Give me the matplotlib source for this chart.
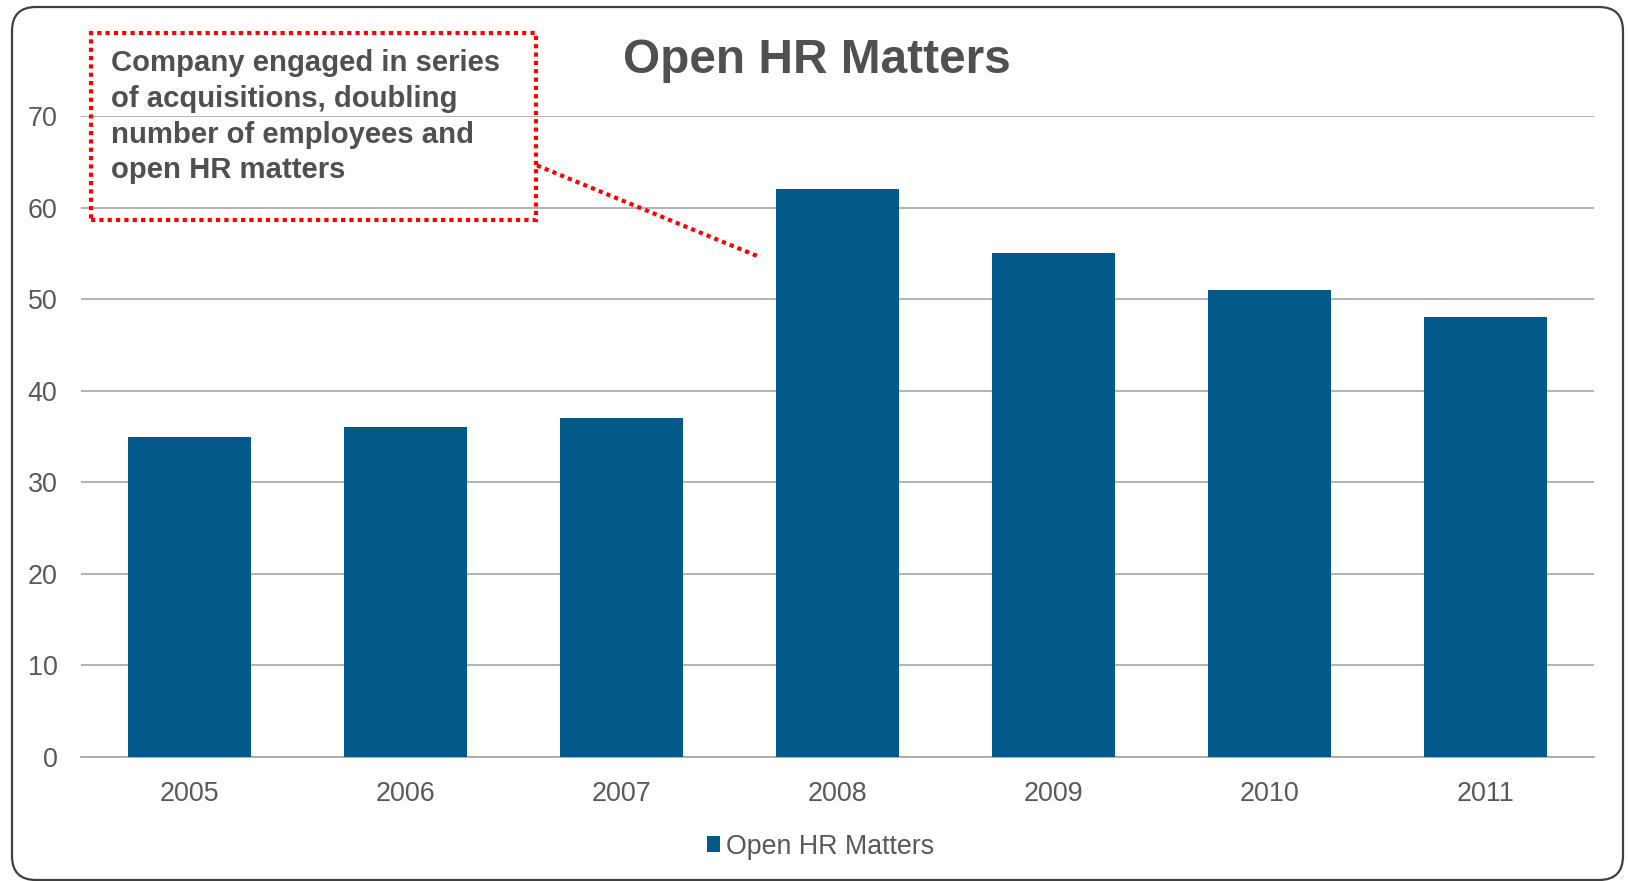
import matplotlib
matplotlib.use("Agg")
import matplotlib.pyplot as plt
from matplotlib.patches import Rectangle, FancyBboxPatch
from matplotlib.transforms import IdentityTransform

plt.rcParams['font.family'] = ['Liberation Sans', 'DejaVu Sans']

# yearly count of open HR matters
years = ["2005", "2006", "2007", "2008", "2009", "2010", "2011"]
open_matters = [35, 36, 37, 62, 55, 51, 48]
y_ticks = [0, 10, 20, 30, 40, 50, 60, 70]

bar_col = "#02598A"
grid_col = "#A6A6A6"
txt_col = "#595959"

fig = plt.figure(figsize=(16.28, 8.81), dpi=100)
ax = fig.add_axes([0.0498, 0.1407, 0.9292, 0.7276])

x = list(range(len(years)))
ax.bar(x, open_matters, width=0.57, color=bar_col, zorder=3, label="Open HR Matters")
ax.set_xlim(-0.5, len(years) - 0.5)
ax.set_ylim(0, 70)
ax.set_yticks(y_ticks)
ax.set_xticks(x)
ax.set_xticklabels(years)
ax.yaxis.grid(True, color=grid_col, lw=1.2, zorder=0)
ax.set_axisbelow(True)
for s in ["top", "right", "left"]:
    ax.spines[s].set_visible(False)
ax.spines["bottom"].set_color(grid_col)
ax.spines["bottom"].set_linewidth(1.2)
ax.tick_params(length=0, labelsize=19.4, labelcolor=txt_col)
ax.tick_params(axis="x", pad=17)
ax.tick_params(axis="y", pad=17)
for t in ax.get_yticklabels():
    t.set_clip_on(False)

fig.text(0.502, 0.9315, "Open HR Matters", ha="center", va="center",
         fontsize=34.4, fontweight="bold", color="#505050")

# callout box with dotted leader to the 2008 jump
fig.add_artist(Rectangle((0.0559, 1 - 220 / 881), 0.2733, 187 / 881, transform=fig.transFigure,
                         fill=False, ec="#FF0000", lw=3, ls=(0, (1, 1))))
fig.text(0.0682, 0.944,
         "Company engaged in series\nof acquisitions, doubling\nnumber of employees and\nopen HR matters",
         ha="left", va="top", fontsize=21.1, fontweight="bold", color="#505050",
         linespacing=1.35)
ax.plot([1.61, 2.63], [64.6, 54.7], color="#FF0000", lw=3, ls=(0, (1, 1)),
        clip_on=False, zorder=5)

fig.legend(loc="center", bbox_to_anchor=(0.504, 0.039), frameon=False,
           fontsize=19.3, labelcolor=txt_col, handlelength=0.5, handleheight=0.5,
           handletextpad=0.2)

# rounded outer frame
fig.add_artist(FancyBboxPatch((12, 1), 1611, 873, boxstyle="round,pad=0,rounding_size=24",
                              transform=IdentityTransform(), fill=False,
                              ec="#404040", lw=1.6))

fig.savefig("out.png", dpi=100)
